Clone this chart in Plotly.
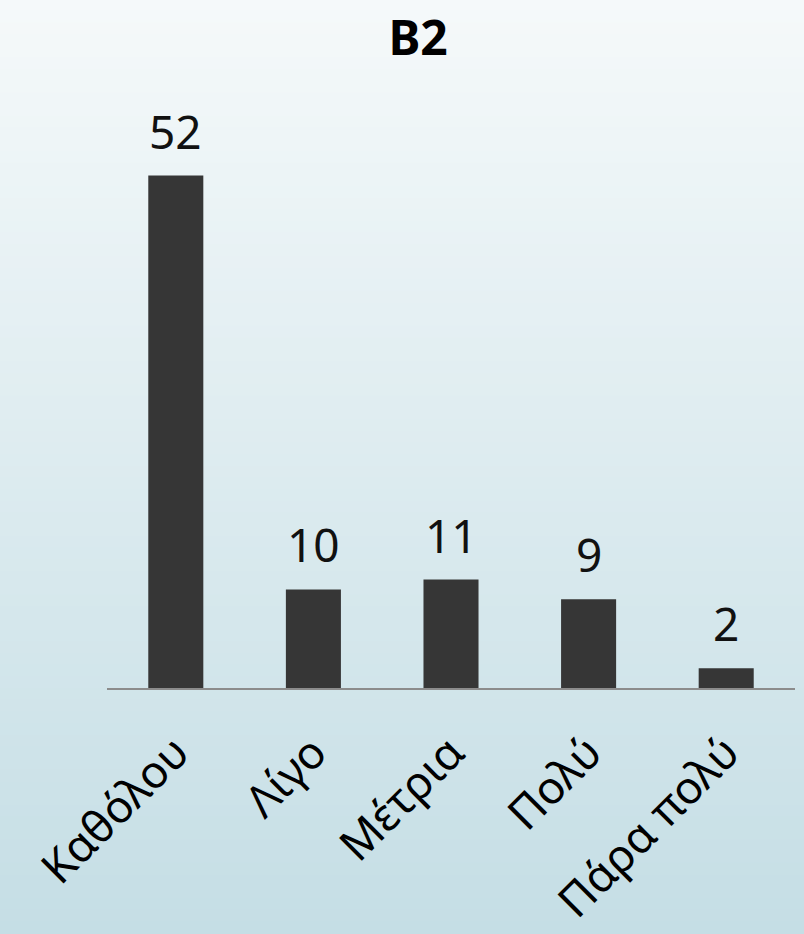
import plotly.graph_objects as go

categories = ['Καθόλου', 'Λίγο', 'Μέτρια', 'Πολύ', 'Πάρα πολύ']
counts = [52, 10, 11, 9, 2]

TOP = (245, 249, 250)
BOTTOM = (197, 222, 229)

W, H = 804, 934
M_T, M_B = 146, 246
plot_h = H - M_T - M_B

fig = go.Figure()

fig.add_trace(go.Bar(
    x=categories,
    y=counts,
    marker=dict(color='#363636', line=dict(width=0)),
    width=0.4,
))

# value labels above the bars
for cat, val in zip(categories, counts):
    fig.add_annotation(
        x=cat, y=val, text=str(val), showarrow=False,
        yanchor='bottom', yshift=12,
        font=dict(size=46, color='#111111', family='Noto Sans'),
    )

# vertical gradient background built from thin stripes (paper coords span the whole figure)
y_top = 1 + M_T / plot_h
y_bot = -M_B / plot_h
n = 80
step = (y_top - y_bot) / n
shapes = []
for i in range(n):
    t = i / (n - 1)
    r = round(TOP[0] + (BOTTOM[0] - TOP[0]) * t)
    g = round(TOP[1] + (BOTTOM[1] - TOP[1]) * t)
    b = round(TOP[2] + (BOTTOM[2] - TOP[2]) * t)
    y1 = y_top - i * step + (0.01 if i == 0 else 0.002)
    y0 = y_top - (i + 1) * step - (0.01 if i == n - 1 else 0)
    shapes.append(dict(
        type='rect', xref='paper', yref='paper', layer='below',
        x0=-0.3, x1=1.3, y0=y0, y1=y1,
        fillcolor=f'rgb({r},{g},{b})', line=dict(width=0),
    ))

fig.update_layout(
    width=W, height=H,
    margin=dict(l=107, r=9, t=M_T, b=M_B, autoexpand=False),
    paper_bgcolor='rgb(220,234,239)',
    plot_bgcolor='rgba(0,0,0,0)',
    shapes=shapes,
    showlegend=False,
    title=dict(text='<b>B2</b>', x=0.52, xanchor='center', y=1 - 38 / H, yanchor='middle',
               font=dict(size=48, color='#000000', family='Noto Sans')),
    font=dict(family='Noto Sans', color='#000000'),
)
fig.update_xaxes(
    automargin=False,
    showline=True, linecolor='#8c8c8c', linewidth=2,
    showgrid=False, ticks='outside', ticklen=18, tickcolor='rgba(0,0,0,0)',
    tickangle=-45,
    tickfont=dict(size=45, color='#000000', family='Noto Sans'),
)
fig.update_yaxes(visible=False, range=[0, 55])

fig.write_html('out.html', config={'displayModeBar': False},
               post_script="document.body.style.margin='0';")
